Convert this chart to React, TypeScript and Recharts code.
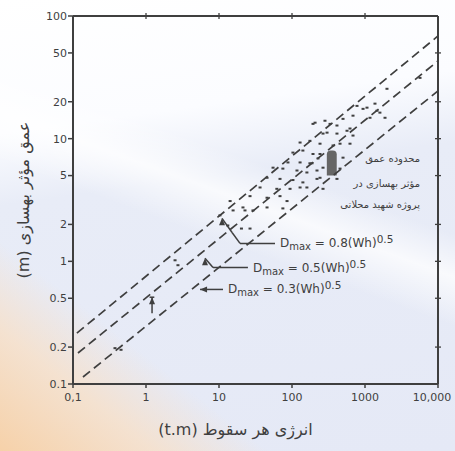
import React from "react";
import {
  ComposedChart,
  XAxis,
  YAxis,
  Line,
  Scatter,
  ReferenceLine,
  ReferenceDot,
  ReferenceArea,
} from "recharts";

// Axis ticks
const xTicks = [0.1, 1, 10, 100, 1000, 10000];
const xTickLabels = ["0,1", "1", "10", "100", "1000", "10,000"];
const yTicks = [0.1, 0.2, 0.5, 1, 2, 5, 10, 20, 50, 100];
const yTickLabels = ["0.1", "0.2", "0.5", "1", "2", "5", "10", "20", "50", "100"];

// Dashed envelope lines (energy t.m, depth m)
const upperLineEnergy = [0.113, 10000];
const upperLineDepth = [0.26, 68.7];
const middleLineEnergy = [0.117, 10000];
const middleLineDepth = [0.179, 43];
const lowerLineEnergy = [0.137, 10000];
const lowerLineDepth = [0.114, 24.5];

// Observed points
const pointEnergy = [
  207, 283, 413, 500, 302, 413, 567, 129, 176, 242, 455, 103, 141, 194, 88, 129,
  188, 227, 55, 75, 117, 160, 220, 45.5, 68.5, 103, 141, 220, 36.5, 62, 94, 129,
  26.6, 45.5, 68.5, 85.5, 14.2, 21.3, 29.2, 15.6, 10.3, 45.5, 75,
  777, 1065, 1370, 685, 1170, 194, 332, 623, 266, 685, 365, 623, 242, 500, 176,
  266, 455, 242, 413, 160, 266, 2000, 5670, 940, 1600, 1880, 1460,
  20.3, 22.7, 13.2, 26.6, 2.5, 2.74, 0.376, 0.455,
];
const pointDepth = [
  13.5, 14.0, 12.8, 14.5, 11.2, 11.0, 11.6, 9.3, 9.6, 9.1, 9.1, 7.7, 8.0, 7.5, 6.4, 6.4,
  6.3, 6.9, 5.8, 5.7, 5.5, 5.3, 5.5, 4.8, 4.7, 4.6, 4.4, 4.7, 4.0, 3.9, 3.9, 4.0,
  3.4, 3.3, 3.4, 3.1, 3.1, 2.75, 2.6, 2.6, 2.37, 2.75, 2.7,
  18.5, 17.9, 19.3, 15.4, 14.8, 13.2, 13.2, 12.1, 11.0, 10.6, 8.8, 9.1, 7.5, 7.0, 6.3,
  5.8, 5.7, 4.8, 4.7, 4.0, 3.9, 25.5, 31.3, 17.5, 16.3, 14.8, 16.9,
  1.85, 2.6, 1.96, 1.85, 1.02, 0.93, 0.196, 0.19,
];

// Effective depth range at the Shahid Mahallati project
const rangeEnergy = [300, 410];
const rangeDepth = [5.0, 8.0];

// Leader lines of the formula annotations: [x1, y1, x2, y2]
const leaderSegments = [
  [11.0, 2.24, 15.1, 1.72],
  [15.1, 1.72, 19.4, 1.4],
  [19.4, 1.4, 58.5, 1.4],
  [6.43, 1.06, 8.28, 0.89],
  [8.28, 0.89, 24.9, 0.89],
  [5.5, 0.59, 11.35, 0.59],
  [1.21, 0.51, 1.21, 0.378],
  [1.12, 0.51, 1.3, 0.51],
];
// Arrow heads: [x, y, direction]
const arrowEnergy = [11.0, 6.43, 5.5, 1.21];
const arrowDepth = [2.24, 1.06, 0.59, 0.51];
const arrowDir = ["up", "up", "left", "up"];

const formulaCoef = ["0.8", "0.5", "0.3"];
const formulaEnergy = [58.5, 24.9, 11.35];
const formulaDepth = [1.4, 0.89, 0.59];

const noteLines = ["محدوده عمق", "مؤثر بهسازی در", "پروژه شهید محلاتی"];
const noteEnergy = [5670, 5670, 5670];
const noteDepth = [7.0, 4.39, 2.96];

const xTitle = "(t.m) انرژی هر سقوط";
const yTitle = "(m) عمق مؤثر بهسازی";

const toPairs = (xs: number[], ys: number[]) => xs.map((x, i) => ({ x, y: ys[i] }));

const upperData = toPairs(upperLineEnergy, upperLineDepth);
const middleData = toPairs(middleLineEnergy, middleLineDepth);
const lowerData = toPairs(lowerLineEnergy, lowerLineDepth);
const pointData = toPairs(pointEnergy, pointDepth);

const INK = "#3f3f3f";
const FONT = "'DejaVu Sans', sans-serif";

const fmtY = (v: number) => yTickLabels[yTicks.indexOf(v)] ?? String(v);

const XTick = (props: any) => {
  const { x, y, payload } = props;
  const i = xTicks.indexOf(payload.value);
  const label = xTickLabels[i] ?? String(payload.value);
  const last = i === xTicks.length - 1;
  return (
    <text
      x={last ? x - 3 : x}
      y={y}
      dy="0.71em"
      fill={INK}
      fontSize={11}
      fontFamily={FONT}
      textAnchor="middle"
    >
      {label}
    </text>
  );
};

const DotShape = (props: any) => {
  const { cx, cy } = props;
  if (cx == null || cy == null) return null;
  return <rect x={cx - 1.5} y={cy - 1} width={3} height={2} fill={INK} />;
};

const FormulaShape = (coef: string) => (props: any) => {
  const { cx, cy } = props;
  return (
    <text x={cx + 5} y={cy + 4} fill={INK} fontSize={12} fontFamily={FONT}>
      <tspan>D</tspan>
      <tspan fontSize={10} dy={3}>max</tspan>
      <tspan dy={-3}>{` = ${coef}(Wh)`}</tspan>
      <tspan fontSize={10.5} dy={-4}>0.5</tspan>
    </text>
  );
};

const NoteShape = (txt: string) => (props: any) => {
  const { cx, cy } = props;
  return (
    <text x={cx} y={cy + 4} fill={INK} fontSize={10} fontFamily={FONT} textAnchor="end">
      {txt}
    </text>
  );
};

const ArrowShape = (dir: string) => (props: any) => {
  const { cx, cy } = props;
  const pts =
    dir === "up"
      ? `${cx},${cy} ${cx - 3},${cy + 7} ${cx + 3},${cy + 7}`
      : `${cx},${cy} ${cx + 7},${cy - 3} ${cx + 7},${cy + 3}`;
  return <polygon points={pts} fill={INK} />;
};

const TopTick = (props: any) => {
  const { cx, cy } = props;
  return <line x1={cx} y1={cy - 3} x2={cx} y2={cy + 3} stroke={INK} strokeWidth={1.3} />;
};
const RightTick = (props: any) => {
  const { cx, cy } = props;
  return <line x1={cx - 3} y1={cy} x2={cx + 3} y2={cy} stroke={INK} strokeWidth={1.3} />;
};

const XTitle = (props: any) => {
  const vb = props.viewBox || {};
  return (
    <text
      x={vb.x + vb.width / 2 - 20}
      y={vb.y + 51}
      fill={INK}
      fontSize={16}
      fontFamily={FONT}
      textAnchor="middle"
    >
      {xTitle}
    </text>
  );
};

const YTitle = () => {
  const cx = 23;
  const cy = 200;
  return (
    <text
      x={cx}
      y={cy}
      fill={INK}
      fontSize={16}
      fontFamily={FONT}
      textAnchor="middle"
      dominantBaseline="central"
      transform={`rotate(-90, ${cx}, ${cy})`}
    >
      {yTitle}
    </text>
  );
};

export default function App() {
  return (
    <div
      style={{
        position: "absolute",
        left: 0,
        top: 0,
        width: 455,
        height: 451,
        background:
          "linear-gradient(38deg, rgba(247,208,165,0.95) 0%, rgba(250,222,192,0.7) 15%, rgba(255,255,255,0) 26%)," +
          "linear-gradient(200deg, rgba(255,255,255,0) 38%, rgba(255,255,255,0.75) 45%, rgba(255,255,255,0) 53%)," +
          "linear-gradient(172deg, #ffffff 0%, #fbfcff 26%, #e8ecf7 40%, #e5e9f6 100%)",
      }}
    >
      <ComposedChart
        width={455}
        height={451}
        margin={{ top: 16, right: 17, bottom: 37, left: 33 }}
      >
        <XAxis
          xAxisId="b"
          dataKey="x"
          type="number"
          scale="log"
          domain={[0.1, 10000]}
          ticks={xTicks}
          allowDataOverflow
          height={30}
          axisLine={{ stroke: INK, strokeWidth: 2 }}
          tickLine={{ stroke: INK, strokeWidth: 1.5 }}
          tickSize={4}
          tickMargin={5}
          tick={<XTick />}
          label={<XTitle />}
        />
        <YAxis
          yAxisId="l"
          dataKey="y"
          type="number"
          scale="log"
          domain={[0.1, 100]}
          ticks={yTicks}
          tickFormatter={fmtY}
          allowDataOverflow
          width={40}
          axisLine={{ stroke: INK, strokeWidth: 2 }}
          tickLine={{ stroke: INK, strokeWidth: 1.5 }}
          tickSize={5}
          tickMargin={1}
          tick={{ fill: INK, fontSize: 11, fontFamily: FONT }}
          label={<YTitle />}
        />

        <ReferenceLine xAxisId="b" yAxisId="l" y={100} stroke={INK} strokeWidth={2} ifOverflow="visible" />
        <ReferenceLine xAxisId="b" yAxisId="l" x={10000} stroke={INK} strokeWidth={2} ifOverflow="visible" />
        {xTicks.slice(1, -1).map((t) => (
          <ReferenceDot key={"tt" + t} xAxisId="b" yAxisId="l" x={t} y={100} r={1} ifOverflow="visible" shape={<TopTick />} />
        ))}
        {yTicks.slice(1, -1).map((t) => (
          <ReferenceDot key={"rt" + t} xAxisId="b" yAxisId="l" x={10000} y={t} r={1} ifOverflow="visible" shape={<RightTick />} />
        ))}

        <ReferenceArea
          xAxisId="b"
          yAxisId="l"
          x1={rangeEnergy[0]}
          x2={rangeEnergy[1]}
          y1={rangeDepth[0]}
          y2={rangeDepth[1]}
          fill="#666666"
          fillOpacity={1}
          stroke="none"
          radius={[4, 4, 0, 0] as any}
        />

        <Line xAxisId="b" yAxisId="l" data={upperData} dataKey="y" type="linear" stroke={INK} strokeWidth={1.7} strokeDasharray="9 5" dot={false} isAnimationActive={false} />
        <Line xAxisId="b" yAxisId="l" data={middleData} dataKey="y" type="linear" stroke={INK} strokeWidth={1.7} strokeDasharray="9 5" dot={false} isAnimationActive={false} />
        <Line xAxisId="b" yAxisId="l" data={lowerData} dataKey="y" type="linear" stroke={INK} strokeWidth={1.7} strokeDasharray="9 5" dot={false} isAnimationActive={false} />
        <Scatter xAxisId="b" yAxisId="l" data={pointData} dataKey="y" shape={<DotShape />} isAnimationActive={false} />

        {leaderSegments.map((s, i) => (
          <ReferenceLine
            key={"seg" + i}
            xAxisId="b"
            yAxisId="l"
            segment={[
              { x: s[0], y: s[1] },
              { x: s[2], y: s[3] },
            ]}
            stroke={INK}
            strokeWidth={1.5}
            ifOverflow="visible"
          />
        ))}
        {arrowDir.map((d, i) => (
          <ReferenceDot key={"a" + i} xAxisId="b" yAxisId="l" x={arrowEnergy[i]} y={arrowDepth[i]} r={1} ifOverflow="visible" shape={ArrowShape(d)} />
        ))}

        {formulaCoef.map((c, i) => (
          <ReferenceDot key={"f" + i} xAxisId="b" yAxisId="l" x={formulaEnergy[i]} y={formulaDepth[i]} r={1} ifOverflow="visible" shape={FormulaShape(c)} />
        ))}

        {noteLines.map((t, i) => (
          <ReferenceDot key={"n" + i} xAxisId="b" yAxisId="l" x={noteEnergy[i]} y={noteDepth[i]} r={1} ifOverflow="visible" shape={NoteShape(t)} />
        ))}
      </ComposedChart>
    </div>
  );
}
